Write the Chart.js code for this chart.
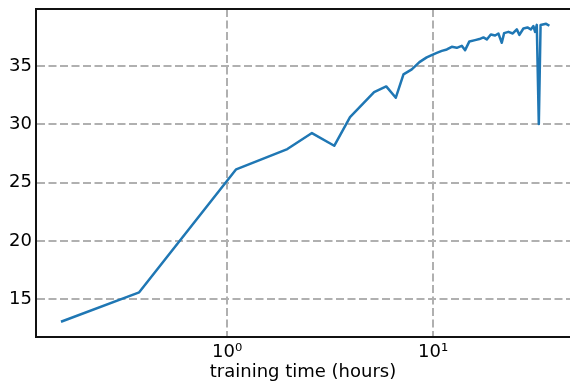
<!DOCTYPE html>
<html>
<head>
<meta charset="utf-8">
<script src="https://cdn.jsdelivr.net/npm/chart.js@4/dist/chart.umd.min.js"></script>
<style>
  html, body { margin: 0; padding: 0; background: #fff; overflow: hidden; }
  #wrap { width: 570px; height: 388px; }
</style>
</head>
<body>
<div id="wrap"><canvas id="bleuChart" width="570" height="388"></canvas></div>
<script>
// training time (hours) vs score
const hours = [0.156, 0.374, 1.106, 1.96, 2.58, 3.31, 3.95, 5.17, 5.92, 6.59, 7.18, 7.88, 8.58, 9.31,
  9.9, 10.42, 11.02, 11.66, 12.32, 13.03, 13.78, 14.3, 15.0, 15.99, 16.78, 17.55, 18.23, 19.06, 20.0,
  20.75, 21.55, 22.12, 23.2, 24.37, 25.49, 26.24, 27.44, 28.7, 29.81, 30.69, 31.27, 31.87, 32.6,
  33.25, 35.37, 36.7];
const scores = [13.08, 15.6, 26.15, 27.89, 29.26, 28.17, 30.63, 32.77, 33.26, 32.29, 34.29, 34.72, 35.34, 35.75,
  35.97, 36.14, 36.31, 36.43, 36.66, 36.57, 36.74, 36.37, 37.12, 37.23, 37.32, 37.46, 37.29, 37.72, 37.63,
  37.8, 37.0, 37.83, 37.94, 37.8, 38.15, 37.68, 38.23, 38.32, 38.15, 38.43, 37.94, 38.54, 30.03,
  38.52, 38.63, 38.46];
const xTicks = [1, 10];
const xTickLabels = ['10\u2070', '10\u00b9'];
const yTicks = [15, 20, 25, 30, 35];

const FONT = "'DejaVu Sans', 'Liberation Sans', Arial, sans-serif";

const points = hours.map((h, i) => ({ x: h, y: scores[i] }));

const gridStyle = {
  color: '#b0b0b0',
  lineWidth: 2,
  drawTicks: false
};

// top spine, chart.js only draws the axis borders
const topSpine = {
  id: 'topSpine',
  afterDraw(chart) {
    const { ctx, chartArea } = chart;
    ctx.save();
    ctx.strokeStyle = '#111';
    ctx.lineWidth = 2;
    ctx.beginPath();
    ctx.moveTo(chartArea.left - 1, chartArea.top);
    ctx.lineTo(chartArea.right, chartArea.top);
    ctx.stroke();
    ctx.restore();
  }
};

new Chart(document.getElementById('bleuChart'), {
  type: 'line',
  data: {
    datasets: [{
      data: points,
      borderColor: '#1f77b4',
      borderWidth: 2.5,
      borderJoinStyle: 'round',
      pointRadius: 0,
      tension: 0,
      fill: false
    }]
  },
  options: {
    responsive: false,
    animation: false,
    layout: { padding: { left: 0, right: 0, top: 9, bottom: 0 } },
    plugins: { legend: { display: false }, tooltip: { enabled: false } },
    scales: {
      x: {
        type: 'logarithmic',
        min: 0.118,
        max: 46.2,
        afterBuildTicks: scale => { scale.ticks = xTicks.map(v => ({ value: v })); },
        afterFit: scale => { scale.height = 51; scale.paddingLeft = 0; scale.paddingRight = 0; },
        grid: { ...gridStyle },
        border: { color: '#111', width: 2, dash: [8, 3.5] },
        ticks: {
          padding: 5,
          color: '#000',
          font: { family: FONT, size: 18 },
          maxRotation: 0,
          callback: v => xTickLabels[xTicks.indexOf(v)] || ''
        },
        title: {
          display: true,
          text: 'training time (hours)',
          color: '#000',
          font: { family: FONT, size: 18 },
          padding: { top: 0, bottom: 5 }
        }
      },
      y: {
        type: 'linear',
        min: 11.77,
        max: 39.9,
        afterBuildTicks: scale => { scale.ticks = yTicks.map(v => ({ value: v })); },
        afterFit: scale => { scale.width = 36; scale.paddingTop = 0; scale.paddingBottom = 0; },
        grid: { ...gridStyle },
        border: { color: '#111', width: 2, dash: [8, 3.5] },
        ticks: {
          padding: 4,
          color: '#000',
          font: { family: FONT, size: 18 }
        }
      }
    }
  },
  plugins: [topSpine]
});
</script>
</body>
</html>
